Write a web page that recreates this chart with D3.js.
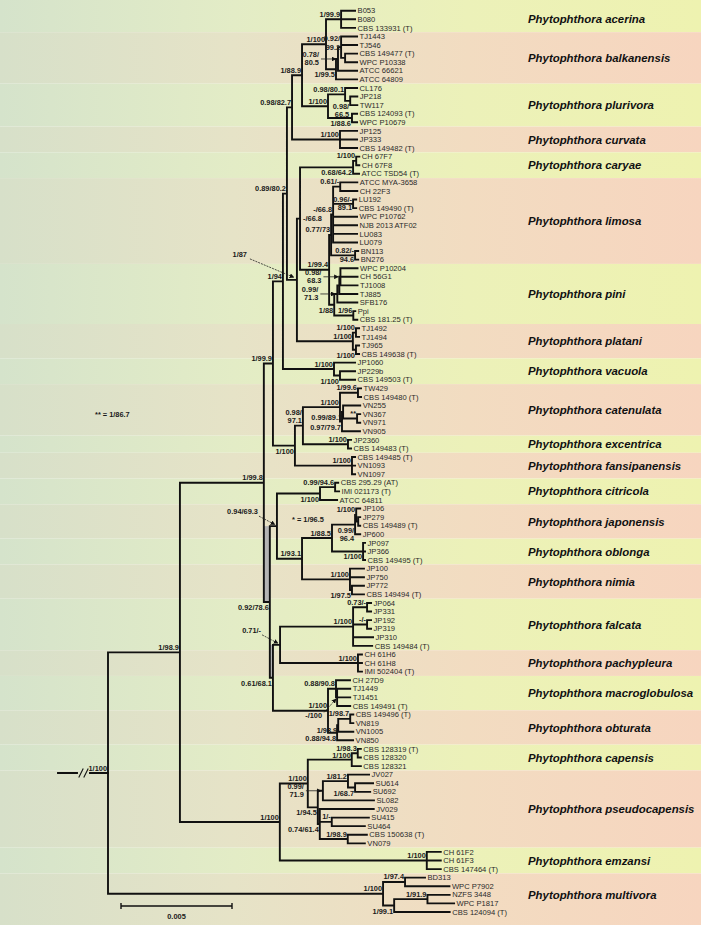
<!DOCTYPE html>
<html><head><meta charset="utf-8">
<script src="https://cdn.jsdelivr.net/npm/d3@7"></script>
<style>body{margin:0;background:#fff}svg{display:block}</style>
</head><body><svg id="c" width="701" height="925"></svg>
<script>
// ---------------- DATA ----------------
// Species (top to bottom) and how many terminal taxa each one has
const species = ["acerina","balkanensis","plurivora","curvata","caryae","limosa","pini","platani","vacuola",
  "catenulata","excentrica","fansipanensis","citricola","japonensis","oblonga","nimia","falcata","pachypleura",
  "macroglobulosa","obturata","capensis","pseudocapensis","emzansi","multivora"];
const speciesLeafCounts = [3,6,5,3,3,10,7,4,3,6,2,3,3,4,3,4,6,3,4,4,3,9,3,5];

// Clades in Newick form; branch lengths in 1e-4 substitutions/site,
// internal labels = "support|label placement[|g = shaded gap to parent]", "~" = line break
const acerina = "('B053':6.3,'B080':6.3,'CBS 133931 (T)':6.3)'1/99.9|a':6.8";
const balkanensis = "((('TJ1443':7.2,'TJ546':7.2,('CBS 149477 (T)':5.4,'WPC P10338':5.4):1.8)'0.92/~99.2|tm':1.4,'ATCC 66621':8.6)'0.78/~80.5|ah':0.9,'ATCC 64809':9.5)'1/99.5|b':4.5";
const plurivora = "(('CL176':5.4,('JP218':3.2,'TW117':3.2)'0.98/~66.5|tb':2.3)'0.98/80.1|a':7.7,('CBS 124093 (T)':2.3,'WPC P10679':2.3)'1/88.6|b':10.8)'1/100|a':11.7";
const curvata = "('JP125':7.7,'JP333':7.7,'CBS 149482 (T)':7.7)'1/100|a':21.6";
const caryae = "(('CH 67F7':1.4,'CH 67F8':1.4)'1/100|a':1.4,'ATCC TSD54 (T)':2.7)'0.68/64.2|b':23.9";
const limosa = "((('ATCC MYA-3658':7.7,'CH 22F3':7.7)'0.61/-|a':3.2,('LU192':1.4,'CBS 149490 (T)':1.4)'0.96/-~89.1|t':9.0,'WPC P10762':10.8,'NJB 2013 ATF02':10.8,'LU083':10.8,'LU079':10.8)'-/66.8|a':0.9,('BN113':1.4,'BN276':1.4)'0.82/-~94.6|t':10.8)'0.77/73|a':0.9";
const pini = "(((('WPC P10204':7.7,'CH 56G1':7.7,'TJ1008':7.7)'0.98/~68.3|ah':0.5,'TJ885':8.1):0.9,'SFB176':9.0)'0.99/~71.3|ah':1.4,('Ppi':0.9,'CBS 181.25 (T)':1.8)'1/96|a':8.6)'1/88|b':2.3";
const platani = "(('TJ1492':1.4,'TJ1494':1.4)'1/100|a':1.4,('TJ965':1.4,'CBS 149638 (T)':1.4)'1/100|b':1.4)'1/100|a':25.2";
const vacuola = "('JP1060':9.5,('JP229b':6.8,'CBS 149503 (T)':6.8)'1/100|b':2.7)'1/100|a':23.0";
const catenulata = "(('TW429':1.4,'CBS 149480 (T)':1.4)'1/99.6|a':8.1,(('VN255':7.7,('VN367':1.4,'VN971':1.4)'**|a':6.3)'0.99/89.1|b':0.5,'VN905':8.1)'0.97/79.7|b':0.9)'1/100|a':16.7";
const excentrica = "('JP2360':1.4,'CBS 149483 (T)':1.4)'1/100|a':20.3";
const fansipanensis = "('CBS 149485 (T)':1.4,'VN1093':1.4,'VN1097':1.4)'1/100|a':25.7";
const citricola = "(('CBS 295.29 (AT)':1.4,'IMI 021173 (T)':1.8)'0.99/94.6|a':6.8,'ATCC 64811':7.7)'1/100|b':19.4";
const japonensis = "(('JP106':1.8,('JP279':0.9,'CBS 149489 (T)':0.9)'*|a':0.9)'1/100|a':0.5,'JP600':2.3)'0.99/~96.4|tb':10.4";
const oblonga = "('JP097':0.9,'JP366':0.9,'CBS 149495 (T)':0.9)'1/100|b':14.0";
const nimia = "('JP100':6.3,'JP750':6.3,('JP772':5.4,'CBS 149494 (T)':5.4)'1/97.5|b':0.9)'1/100|a':21.6";
const falcata = "(('JP064':1.8,'JP331':1.8)'0.73/-|a':6.3,('JP192':1.8,'JP319':1.8)'-/-|a':6.3,'JP310':9.0,'CBS 149484 (T)':8.6)'1/100|a':32.9";
const pachypleura = "('CH 61H6':1.8,'CH 61H8':1.8,'IMI 502404 (T)':1.8)'1/100|a':35.1";
const macroglobulosa = "('CH 27D9':6.3,('TJ1449':5.9,'TJ1451':5.9,'CBS 149491 (T)':5.9)'-/100|au|g':0.5)'0.88/90.8|a':3.6";
const obturata = "((('CBS 149496 (T)':1.4,'VN819':1.4)'1/98.7|a':5.4,'VN1005':6.8)'1/93.9|b':0.5,'VN850':7.2)'0.88/94.8|b':4.1";
const capensis = "(('CBS 128319 (T)':1.4,'CBS 128320':1.4)'1/98.3|a':2.7,'CBS 128321':4.1)'1/100|a1':19.8";
const pseudocapensis = "((('JV027':9.5,('SU614':8.1,'SU692':6.8)'1/68.7|b':3.2)'1/81.2|a':11.3,'SL082':23.0)'0.99/~71.9|ah':2.3,('JV029':24.3,('SU415':16.7,'SU464':14.9)'1/-|a':5.4,('CBS 150638 (T)':8.6,'VN079':7.7)'1/98.9|a':12.6)'0.74/61.4|b':0.9)'1/94.5|b':4.5";
const emzansi = "('CH 61F2':6.3,'CH 61F3':6.3,'CBS 147464 (T)':6.3)'1/100|a':66.2";
const multivora = "(('BD313':9.0,'WPC P7902':20.0)'1/97.4|a':9.9,(('NZFS 3448':10.0,'WPC P1817':12.0)'1/91.9|a':15.0,'CBS 124094 (T)':25.0)'1/99.1|b':5.0)'1/100|a':123.9";

// backbone
const cAB  = "(" + acerina + "," + balkanensis + ")'1/100|a':10.8";
const cP   = "(" + cAB + "," + plurivora + ")'1/88.9|a':4.5";
const cR   = "(" + cP + "," + curvata + ")'0.98/82.7|a':2.3";
const cLP  = "(" + limosa + "," + pini + ")'1/99.4|a':13.1";
const cCLP = "(" + caryae + "," + cLP + ")'-/66.8|r':1.4";
const cN87 = "(" + cCLP + "," + platani + ")'1/87|ad2':4.5";
const cN1  = "(" + cR + "," + cN87 + ")'0.89/80.2|a':1.8";
const cN94 = "(" + cN1 + "," + vacuola + ")'1/94|a':4.5";
const cCE  = "(" + catenulata + "," + excentrica + ")'0.98/~97.1|ta':3.6";
const cCG  = "(" + cCE + "," + fansipanensis + ")'1/100|b':9.9";
const cZ   = "(" + cN94 + "," + cCG + ")'1/99.9|a':4.1";
const cJO  = "(" + japonensis + "," + oblonga + ")'1/88.5|a':13.5";
const cJON = "(" + cJO + "," + nimia + ")'1/93.1|a':11.3";
const cCJ  = "(" + citricola + "," + cJON + ")'0.94/69.3|ad':3.2";
const cFAPA= "(" + falcata + "," + pachypleura + ")'0.71/-|ad':3.2";
const cMO  = "(" + macroglobulosa + "," + obturata + ")'1/100|a':24.8";
const cFP  = "(" + cFAPA + "," + cMO + ")'0.61/68.1|b|g':1.4";
const cW   = "(" + cCJ + "," + cFP + ")'0.92/78.6|b|g':2.7";
const cY   = "(" + cZ + "," + cW + ")'1/99.8|a':37.8";
const cCPP = "(" + capensis + "," + pseudocapensis + ")'1/100|a':12.6";
const cCap = "(" + cCPP + "," + emzansi + ")'1/100|a':45.0";
const cX   = "(" + cY + "," + cCap + ")'1/98.9|a':32.4";
const treeNewick = "(" + cX + "," + multivora + ")'1/100|root'";

const scaleBarValue = 0.005;
const scaleBarLabel = "0.005";
const notes = ["** = 1/86.7", "* = 1/96.5"];

// ---------------- PARSER ----------------
function parseNewick(s){
  let i = 0;
  function node(){
    const n = {};
    if (s[i] === "("){
      n.children = [];
      i++;
      n.children.push(node());
      while (s[i] === ","){ i++; n.children.push(node()); }
      i++; // ")"
    }
    let lab = "";
    if (s[i] === "'"){ i++; while (s[i] !== "'") lab += s[i++]; i++; }
    else { while (i < s.length && !",):;".includes(s[i])) lab += s[i++]; }
    n.label = lab;
    n.len = 0;
    if (s[i] === ":"){ i++; let num = ""; while (i < s.length && !",);".includes(s[i])) num += s[i++]; n.len = parseFloat(num) * 1e-4; }
    return n;
  }
  return node();
}

// ---------------- LAYOUT ----------------
const W = 701, H = 925;
const svg = d3.select("#c");
const root = d3.hierarchy(parseNewick(treeNewick));
root.each(d => { d.dist = d.parent ? d.parent.dist + d.data.len : 0; });
const leaves = root.leaves();

const xScale = d3.scaleLinear().domain([0, scaleBarValue]).range([108, 219]);
const yScale = d3.scaleLinear().domain([0, leaves.length - 1]).range([10.7, 912]);

leaves.forEach((d, i) => { d.y = yScale(i); });
root.eachAfter(d => {
  d.x = xScale(d.dist);
  if (d.children) d.y = (d.children[0].y + d.children[d.children.length - 1].y) / 2;
});

// ---------------- BACKGROUND BANDS ----------------
const defs = svg.append("defs");
const gradStops = {
  y: ["#d5e3cb", "#e3ecc6", "#ecf1b9", "#eef2b0"],
  p: ["#d7e0c9", "#e6e3c7", "#f2dcc1", "#f7d5bf"]
};
Object.keys(gradStops).forEach(k => {
  const g = defs.append("linearGradient").attr("id", "grad-" + k)
    .attr("gradientUnits", "userSpaceOnUse").attr("x1", 0).attr("x2", W).attr("y1", 0).attr("y2", 0);
  gradStops[k].forEach((c, i, a) => g.append("stop").attr("offset", i / (a.length - 1)).attr("stop-color", c));
});
defs.append("marker").attr("id", "arr").attr("viewBox", "0 0 10 10").attr("refX", 9).attr("refY", 5)
  .attr("markerWidth", 6).attr("markerHeight", 6).attr("orient", "auto")
  .append("path").attr("d", "M0,0 L10,5 L0,10 z").attr("fill", "#111");

let start = 0;
const bands = species.map((sp, i) => {
  const s = start, e = start + speciesLeafCounts[i] - 1;
  start += speciesLeafCounts[i];
  const top = s === 0 ? 0 : (yScale(s) + yScale(s - 1)) / 2;
  const bot = e === leaves.length - 1 ? H : (yScale(e) + yScale(e + 1)) / 2;
  return { sp, i, top, bot, mid: (yScale(s) + yScale(e)) / 2 };
});
svg.append("g").selectAll("rect").data(bands).join("rect")
  .attr("x", 0).attr("width", W).attr("y", d => d.top).attr("height", d => d.bot - d.top)
  .attr("fill", d => d.i % 2 === 0 ? "url(#grad-y)" : "url(#grad-p)");

svg.append("g").selectAll("text").data(bands).join("text")
  .attr("x", 528).attr("y", d => d.mid).attr("dy", "0.36em")
  .attr("font-family", "'Liberation Sans', Arial, sans-serif").attr("font-size", 11.4)
  .attr("font-weight", "bold").attr("font-style", "italic").attr("fill", "#111")
  .text(d => "Phytophthora " + d.sp);

// ---------------- TREE ----------------
const lineColor = "#111";
// shaded gaps between two nearly coincident vertical lines
const shade = svg.append("g").attr("fill", "#b4b4b4");
root.descendants().filter(d => d.parent && d.children && (d.data.label.split("|")[2] === "g")).forEach(d => {
  const p = d.parent;
  const pTop = p.children[0].y, pBot = p.children[p.children.length - 1].y;
  const cTop = d.children[0].y, cBot = d.children[d.children.length - 1].y;
  const top = Math.max(pTop, cTop), bot = Math.min(pBot, cBot);
  if (bot > top) shade.append("rect").attr("x", p.x).attr("y", top).attr("width", d.x - p.x).attr("height", bot - top);
});

const g = svg.append("g").attr("fill", "none").attr("stroke", lineColor).attr("stroke-width", 1.9).attr("stroke-linecap", "square");
const segs = [];
root.descendants().forEach(d => {
  if (d.children){
    segs.push(`M${d.x},${d.children[0].y}V${d.children[d.children.length - 1].y}`);
    d.children.forEach(c => segs.push(`M${d.x},${c.y}H${c.x}`));
  }
});
g.append("path").attr("d", segs.join(""));

// root stem with break marks
const ry = root.y;
g.append("path").attr("d", `M58,${ry}H77M90,${ry}H${root.x}`);
g.append("path").attr("stroke-width", 1.1).attr("d", `M79,${ry + 4}L83,${ry - 4}M84,${ry + 4}L88,${ry - 4}`);

// leaf labels
svg.append("g").selectAll("text").data(leaves).join("text")
  .attr("x", d => d.x + 2.5).attr("y", d => d.y).attr("dy", "0.35em")
  .attr("font-family", "'Liberation Sans', Arial, sans-serif").attr("font-size", 7.6).attr("fill", "#2a2a2a")
  .text(d => d.data.label);

// support labels
const sg = svg.append("g").attr("font-family", "'Liberation Sans', Arial, sans-serif")
  .attr("font-size", 7.4).attr("font-weight", "bold").attr("fill", "#1a1a1a");
const place = {
  a:  { dx: -1, dy: [-2.5] },
  a1: { dx: -1, dy: [-1.2] },
  root: { dx: -1, dy: [-2.5] },
  b:  { dx: -1, dy: [8] },
  t:  { dx: -1, dy: [-2, 6.5] },
  tm: { dx: -1, dy: [-6, 2.5] },
  ta: { dx: -1, dy: [-10.5, -2.5] },
  tb: { dx: -1, dy: [8, 16] },
  r:  { dx: 3, dy: [2.5], anchor: "start" },
  ah: { dx: -19, dy: [-1.5, 6.5], arrow: [-17, 0, -2, 0] },
  ad: { dx: -19, dy: [-12], arrow: [-18, -10, -2, -1.5] },
  ad2:{ dx: -50, dy: [-23], arrow: [-47, -21, -3, -2.5] },
  au: { dx: -15, dy: [21], arrow: [-13, 15, -1, 1.5] }
};
root.descendants().filter(d => d.children && d.data.label).forEach(d => {
  const [txt, code] = d.data.label.split("|");
  const p = place[code] || place.a;
  const lines = txt.split("~");
  lines.forEach((ln, k) => {
    sg.append("text").attr("x", d.x + p.dx).attr("y", d.y + p.dy[Math.min(k, p.dy.length - 1)] + (p.dy.length === 1 ? k * 8.5 : 0))
      .attr("text-anchor", p.anchor || "end").text(ln);
  });
  if (p.arrow){
    svg.append("line").attr("x1", d.x + p.arrow[0]).attr("y1", d.y + p.arrow[1])
      .attr("x2", d.x + p.arrow[2]).attr("y2", d.y + p.arrow[3])
      .attr("stroke", "#222").attr("stroke-width", 0.8).attr("stroke-dasharray", code === "ah" ? null : "2,1")
      .attr("marker-end", "url(#arr)");
  }
});

// notes
sg.append("text").attr("x", 95).attr("y", 417).text(notes[0]);
sg.append("text").attr("x", 292).attr("y", 522).text(notes[1]);

// scale bar
const sbX = 121, sbY = 906, sbW = xScale(scaleBarValue) - xScale(0);
svg.append("path").attr("d", `M${sbX},${sbY - 3}V${sbY + 3}M${sbX},${sbY}H${sbX + sbW}M${sbX + sbW},${sbY - 3}V${sbY + 3}`)
  .attr("stroke", "#111").attr("stroke-width", 1.4).attr("fill", "none");
sg.append("text").attr("x", sbX + sbW / 2).attr("y", sbY + 13).attr("text-anchor", "middle").text(scaleBarLabel);
</script></body></html>
